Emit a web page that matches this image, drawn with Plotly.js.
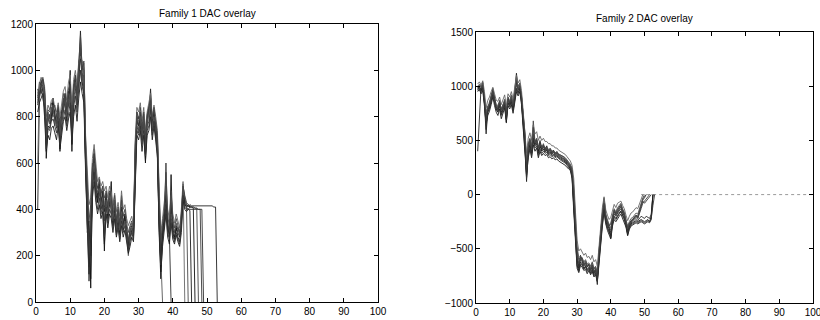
<!DOCTYPE html>
<html>
<head>
<meta charset="utf-8">
<script src="https://cdn.plot.ly/plotly-3.0.1.min.js"></script>
<style>html,body{margin:0;padding:0;background:#fff;}#chart{width:820px;height:320px;}</style>
</head>
<body>
<div id="chart"></div>
<script>
// Shared sample positions (x)
const xGrid = [0.5,1,1.5,2,2.5,3,3.5,4,4.5,5,5.5,6,6.5,7,7.5,8,8.5,9,9.5,10,10.5,11,11.5,12,12.5,13,13.5,14,14.5,15,15.5,16,16.5,17,17.5,18,18.5,19,19.5,20,20.5,21,21.5,22,22.5,23,23.5,24,24.5,25,25.5,26,26.5,27,27.5,28,28.5,29,29.5,30,30.5,31,31.5,32,32.5,33,33.5,34,34.5,35,35.5,36,36.5,37,37.5,38,38.5,39,39.5,40,40.5,41,41.5,42,42.5,43,43.5,44,44.5,45,45.5,46,46.5,47,47.5,48,48.5,49,49.5,50,50.5,51,51.5,52,52.5,53];

// Family 1 DAC curves
const fam1A = [400,880,930,960,900,760,800,770,820,860, 790,770,830,740,800,860,890,810,910,870, 760,900,960,870,1010,1170,990,920,640,380, 200,380,560,620,500,460,510,420,480,390, 460,370,450,410,340,430,320,390,300,410, 330,370,290,270,310,330,290,620,800,760, 820,710,790,690,790,820,920,760,810,740, 690,420,210,290,360,460,330,290,430,320, 280,330,300,280,360,490,440,420,410,420, 415,415,415,415,415,415,415,415,415,415, 415,415,415,410,410,0];
const fam1B = [900,920,950,930,880,700,780,800,790,840, 820,750,800,780,830,880,840,800,880,920, 800,880,920,900,960,1050,1000,1040,700,500, 300,100,480,660,520,430,470,440,460,410, 430,400,470,380,380,400,350,370,330,460, 350,340,320,250,290,310,280,560,760,730, 780,740,760,640,760,780,840,740,790,760, 700,380,150,320,340,600,310,310,400,340, 300,310,320,300,330,510,430,410,400,410, 410,410,405,405,400,400,0];
const fam1C = [850,900,940,960,910,620,760,750,800,880, 780,800,850,650,770,820,900,780,860,1000, 650,920,980,850,990,1100,950,900,600,300, 350,60,520,580,470,430,530,400,440,220, 480,360,420,520,330,410,300,360,290,380, 310,380,300,230,280,310,300,680,780,800, 760,700,820,600,800,850,880,780,830,720, 660,300,100,280,330,420,350,280,550,300, 270,320,280,260,340,470,420,410,420,410, 410,405,0];
const fam1D = [880,950,900,920,850,740,820,790,840,800, 810,760,790,760,780,900,860,840,900,840, 820,860,900,920,970,1000,960,980,580,450, 150,350,600,560,480,500,480,460,500,430, 410,420,440,400,370,380,350,400,310,350, 360,330,320,260,320,340,310,580,820,740, 800,720,760,720,770,800,860,740,800,770, 700,450,250,330,380,420,330,300,380,330, 300,340,310,290,370,500,450,420,0];
const fam1E = [920,880,960,900,860,720,790,810,780,830, 800,780,810,700,820,850,870,830,850,950, 720,940,940,880,1020,1080,1020,1000,620,420, 250,200,500,640,540,450,500,430,470,350, 450,390,430,440,360,420,330,380,320,400, 340,360,310,240,300,320,300,640,780,760, 790,730,780,660,790,830,880,770,820,750, 680,350,180,300,350,500,320,290,0];
const fam1F = [870,920,940,950,870,680,810,770,830,850, 760,790,820,720,790,840,880,800,870,900, 700,900,950,860,1000,1120,980,950,660,350, 180,300,540,600,510,470,490,410,450,300, 440,380,460,420,350,440,310,380,310,390, 320,350,300,200,290,320,280,600,790,780, 800,700,800,650,780,810,900,750,800,730, 650,380,200,0];
const fam1G = [600,940,970,940,920,800,850,830,870,880, 840,820,860,800,850,910,930,870,950,980, 850,960,1000,940,1040,1060,1040,1010,720,560, 420,450,620,680,580,520,540,500,520,480, 500,450,500,470,420,470,390,430,370,480, 400,420,360,330,350,370,330,700,840,820, 860,780,840,740,820,860,900,800,850,800, 740,500,300,360,420,500,400,360,460,380, 340,380,350,320,400,520,0];
const fam1H = [820,860,880,900,800,650,720,700,750,760, 730,700,760,660,720,780,800,740,790,820, 680,800,850,780,880,950,900,860,560,320, 120,280,450,520,430,380,420,360,390,250, 380,320,380,360,300,360,280,320,260,330, 280,310,260,210,240,280,260,520,720,700, 740,650,720,610,720,740,800,700,760,700, 620,320,130,240,300,380,280,250,340,270, 250,290,260,240,300,440,400,390,400,395, 0];
const fam1I = [890,910,920,970,930,770,830,820,860,830, 850,800,840,760,810,830,900,850,920,940, 780,930,970,900,1030,1150,1010,1030,680,480, 350,420,580,640,560,490,520,470,500,450, 470,420,480,450,400,460,360,410,340,440, 370,400,340,300,330,350,320,650,820,790, 840,760,810,720,810,840,870,790,840,780, 720,470,260,340,400,560,380,320,480,360, 320,360,330,300,380,500,460,430,420,415, 410,410,405,405,0];
const fam1J = [860,900,920,880,840,660,750,740,780,790, 760,730,780,680,750,800,830,760,820,860, 700,840,890,820,920,1000,930,900,600,280, 90,240,480,560,450,400,450,380,420,280, 410,340,400,380,320,380,290,340,270,350, 300,330,270,220,260,300,270,560,740,720, 760,680,740,630,740,760,830,720,780,710, 640,340,160,260,320,400,300,270,360,290, 260,300,270,250,320,460,410,400,400,400, 400,400,400,400,400,400,400,0];

// Family 2 DAC curves
const fam2A = [400,750,990,1000,860,560,780,820,890,960, 870,800,790,860,760,810,870,660,900,840, 890,800,960,1120,970,1010,880,680,520,120, 460,510,400,560,470,510,400,490,420,460, 410,450,390,420,380,410,370,390,360,350, 340,330,320,300,280,260,200,-50,-350,-600, -680,-560,-610,-650,-630,-670,-640,-690,-650,-720, -690,-830,-520,-330,-180,-40,-190,-260,-300,-400, -210,-140,-170,-140,-110,-90,-140,-170,-240,-330, -270,-240,-230,-210,-190,-210,-160,-90,-40,-20, 0];
const fam2B = [980,1000,970,1030,900,740,810,840,900,980, 890,830,810,850,790,830,850,790,870,860, 910,830,940,1030,990,1000,920,720,560,280, 430,490,420,540,500,480,430,470,440,450, 430,430,410,420,400,400,390,380,370,360, 360,350,340,320,300,280,240,50,-250,-520, -600,-580,-580,-630,-610,-650,-660,-670,-630,-690, -670,-740,-560,-360,-210,-70,-210,-240,-290,-270, -200,-160,-190,-160,-130,-110,-160,-190,-260,-300, -260,-240,-220,-200,-190,-200,-150,-100,-60,-80, -60,-40,-20,0];
const fam2C = [1000,990,960,1000,850,700,760,800,860,940, 860,790,760,820,740,780,830,700,850,820, 860,780,900,980,940,980,860,640,500,200, 380,460,380,500,450,470,380,450,400,420, 390,410,370,390,360,370,350,360,340,330, 320,310,300,280,260,240,180,-100,-400,-650, -700,-620,-640,-680,-660,-700,-680,-720,-690,-740, -720,-780,-600,-400,-250,-120,-240,-300,-340,-380, -260,-200,-220,-190,-170,-150,-190,-220,-280,-370, -300,-270,-260,-250,-240,-250,-240,-230,-240,-250, -240,-230,-250,-200,0];
const fam2D = [960,1010,990,1040,880,720,800,850,920,970, 900,820,800,870,780,820,860,740,890,850, 900,820,950,1060,1000,1030,900,700,580,250, 470,520,440,680,490,520,440,500,430,470, 420,440,400,430,390,400,380,400,370,370, 350,340,330,310,290,270,230,20,-300,-560, -640,-590,-600,-640,-640,-660,-650,-700,-660,-710, -680,-790,-540,-340,-190,-50,-200,-250,-310,-300, -220,-150,-180,-130,-120,-100,-150,-180,-250,-310, -280,-250,-240,-220,-200,-220,-170,-110,-50,-30, 0];
const fam2E = [1000,980,950,990,870,600,790,810,880,950, 880,810,780,840,770,800,840,720,880,830, 880,810,930,1050,960,990,890,660,540,160, 420,480,390,520,460,500,410,480,410,440, 400,420,380,400,370,390,360,370,350,340, 330,320,310,290,270,250,210,-20,-330,-580, -660,-600,-620,-660,-650,-690,-670,-700,-670,-730, -700,-760,-580,-370,-230,-100,-220,-280,-320,-350, -230,-180,-200,-170,-150,-130,-170,-200,-270,-350, -290,-260,-250,-230,-220,-240,-220,-200,-210,-220, -200,-210,-220,-180,0];
const fam2F = [990,1020,1000,1010,890,760,820,830,910,940, 860,810,830,850,770,840,880,760,860,870, 920,840,970,1080,980,1020,910,740,540,300, 440,500,430,600,480,490,420,460,450,430, 440,420,420,410,410,390,380,380,380,360, 350,350,330,320,290,270,220,80,-200,-480, -580,-570,-590,-620,-600,-640,-630,-660,-620,-680, -660,-720,-520,-320,-170,-30,-180,-230,-280,-260, -190,-130,-160,-120,-100,-80,-130,-160,-230,-290, -250,-220,-210,-190,-170,-180,-130,-70,-30,0];
const fam2G = [1020,1040,1010,1050,950,800,870,900,950,990, 930,870,860,900,830,880,920,820,930,900, 950,880,1000,1100,1030,1060,960,780,620,380, 520,570,500,640,560,580,500,540,500,520, 490,490,470,470,450,450,430,430,410,400, 390,380,370,350,330,310,270,150,-150,-420, -520,-500,-530,-560,-540,-580,-570,-600,-560,-620, -600,-660,-480,-280,-120,-20,-140,-190,-230,-210, -150,-90,-120,-80,-70,-60,-100,-130,-190,-240, -200,-170,-160,-140,-120,-130,-90,-40,0];
const fam2H = [950,970,930,960,820,660,730,770,830,900, 820,760,730,790,700,750,800,670,820,790, 830,750,870,950,910,950,830,610,460,180, 340,420,340,460,400,430,340,400,360,380, 360,370,340,350,330,340,320,330,310,300, 290,280,270,250,240,220,150,-150,-450,-680, -720,-650,-670,-700,-690,-730,-700,-740,-710,-760, -740,-800,-640,-430,-290,-160,-270,-330,-370,-410, -290,-230,-250,-220,-200,-180,-220,-250,-300,-380, -320,-290,-280,-270,-260,-270,-260,-250,-260,-270, -260,-250,-260,-230,0];
const fam2I = [990,960,980,1010,870,680,790,830,880,950, 870,800,800,860,780,810,860,730,880,850, 880,820,920,1010,970,1000,900,700,560,220, 440,500,410,620,480,500,430,470,430,450, 420,430,400,410,390,400,370,380,360,350, 340,330,320,300,280,260,220,30,-280,-560, -640,-580,-600,-650,-620,-660,-650,-690,-650,-710, -690,-770,-550,-350,-200,-80,-200,-260,-300,-330, -220,-160,-180,-150,-130,-110,-150,-190,-250,-320, -270,-250,-240,-220,-200,-220,-180,-130,-80,-60, -40,-20,0];
const fam2J = [970,990,950,980,840,640,770,790,850,920, 850,780,770,830,730,770,820,690,840,810, 850,770,890,970,930,970,850,630,480,150, 360,440,360,490,430,450,360,420,380,400, 380,390,360,370,350,360,340,350,330,320, 310,300,290,270,250,230,170,-120,-420,-660, -710,-640,-650,-690,-670,-710,-690,-730,-700,-750, -730,-800,-620,-410,-270,-140,-260,-310,-350,-390, -270,-210,-230,-200,-180,-160,-200,-230,-290,-360, -310,-280,-270,-260,-250,-260,-250,-240,-250,-260, -250,-240,-250,-220,-100,0];
// zero padding after the curves end
const fam2TailX = [49,100];
const fam2TailY = [0,0];

const fam1Series = [fam1A, fam1B, fam1C, fam1D, fam1E, fam1F, fam1G, fam1H, fam1I, fam1J];
const fam2Series = [fam2A, fam2B, fam2C, fam2D, fam2E, fam2F, fam2G, fam2H, fam2I, fam2J];
const lineColors = ['#222222','#3a3a3a','#111111','#4a4a4a','#2a2a2a','#555555','#666666','#1a1a1a','#444444','#333333'];

const traces = [];
fam1Series.forEach((ys, i) => traces.push({
  type: 'scatter', mode: 'lines', x: xGrid.slice(0, ys.length), y: ys,
  xaxis: 'x', yaxis: 'y', line: {color: lineColors[i], width: 0.9}, hoverinfo: 'skip'
}));
traces.push({type:'scatter', mode:'lines', x: fam2TailX, y: fam2TailY, xaxis:'x2', yaxis:'y2',
  line:{color:'#9a9a9a', width:1, dash:'dot'}, hoverinfo:'skip'});
fam2Series.forEach((ys, i) => traces.push({
  type: 'scatter', mode: 'lines', x: xGrid.slice(0, ys.length), y: ys,
  xaxis: 'x2', yaxis: 'y2', line: {color: lineColors[i], width: 0.9}, hoverinfo: 'skip'
}));

const axisBase = {
  showline: true, linecolor: '#000', linewidth: 1, mirror: 'allticks',
  ticks: 'inside', ticklen: 4, tickcolor: '#000', tickwidth: 1,
  showgrid: false, zeroline: false, ticklabeloverflow: 'allow',
  tickfont: {family: 'Liberation Sans, Arial, sans-serif', size: 10, color: '#000'}
};

const layout = {
  width: 820, height: 320,
  margin: {l: 0, r: 0, t: 0, b: 0},
  paper_bgcolor: '#fff', plot_bgcolor: '#fff',
  showlegend: false,
  xaxis: Object.assign({}, axisBase, {domain: [36/820, 378/820], range: [0, 100], dtick: 10, anchor: 'y'}),
  yaxis: Object.assign({}, axisBase, {domain: [18/320, 296/320], range: [0, 1200], dtick: 200, anchor: 'x'}),
  xaxis2: Object.assign({}, axisBase, {domain: [476/820, 813/820], range: [0, 100], dtick: 10, anchor: 'y2'}),
  yaxis2: Object.assign({}, axisBase, {domain: [17/320, 288/320], range: [-1000, 1500], dtick: 500, anchor: 'x2'}),
  annotations: [
    {text: 'Family 1 DAC overlay', xref: 'paper', yref: 'paper', x: 207/820, y: (320-14)/320,
     xanchor: 'center', yanchor: 'middle', showarrow: false,
     font: {family: 'Liberation Sans, Arial, sans-serif', size: 10, color: '#000'}},
    {text: 'Family 2 DAC overlay', xref: 'paper', yref: 'paper', x: 644/820, y: (320-19)/320,
     xanchor: 'center', yanchor: 'middle', showarrow: false,
     font: {family: 'Liberation Sans, Arial, sans-serif', size: 10, color: '#000'}}
  ]
};

Plotly.newPlot('chart', traces, layout, {displayModeBar: false, staticPlot: true});
</script>
</body>
</html>
